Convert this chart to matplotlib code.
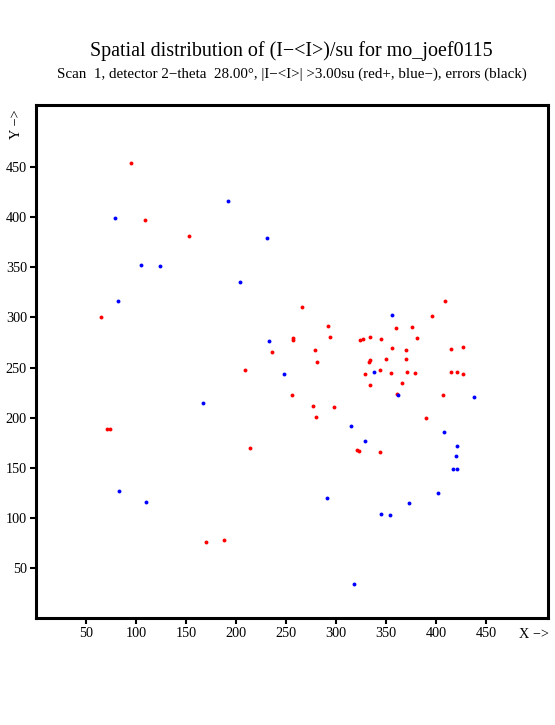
import matplotlib
matplotlib.use("Agg")
import matplotlib.pyplot as plt

plt.rcParams['font.family'] = ['Liberation Serif', 'DejaVu Serif']

red_x = [95, 109, 153, 65, 266, 292, 257, 257, 294, 236, 279, 281, 256, 277, 298, 280,
         214, 321, 323, 344, 324, 327, 334, 345, 334, 333, 329, 334, 350, 344, 355, 356,
         360, 376, 370, 370, 371, 379, 381, 366, 361, 396, 409, 407, 390, 415, 427, 415,
         421, 427, 209, 71, 74, 170, 188]
red_y = [454, 397, 381, 300, 310, 291, 279, 277, 280, 265, 267, 256, 223, 212, 211, 201,
         170, 168, 167, 166, 277, 278, 280, 278, 257, 256, 244, 233, 258, 248, 245, 269,
         289, 290, 267, 258, 246, 245, 279, 235, 224, 301, 316, 223, 200, 268, 270, 246,
         246, 244, 248, 189, 189, 76, 78]

blue_x = [356, 233, 248, 338, 362, 315, 329, 408, 438, 421, 420, 417, 421, 402, 373,
          345, 354, 192, 79, 231, 105, 124, 204, 82, 167, 83, 110, 291, 318]
blue_y = [302, 276, 244, 246, 223, 192, 177, 186, 221, 172, 162, 149, 149, 125, 115,
          104, 103, 416, 399, 379, 352, 351, 335, 316, 215, 127, 116, 120, 34]

x_ticks = [50, 100, 150, 200, 250, 300, 350, 400, 450]
y_ticks = [50, 100, 150, 200, 250, 300, 350, 400, 450]

title = "Spatial distribution of (I\u2212<I>)/su for mo_joef0115"
subtitle = ("Scan  1, detector 2\u2212theta  28.00\u00b0, |I\u2212<I>| >3.00su "
            "(red+, blue\u2212), errors (black)")

fig = plt.figure(figsize=(5.55, 7.25), dpi=100)
ax = fig.add_axes([36/555, 107/725, 512/555, 513/725])

ax.plot(red_x, red_y, linestyle='none', marker='o', ms=2.8, mew=0, color='#ff0000')
ax.plot(blue_x, blue_y, linestyle='none', marker='o', ms=2.8, mew=0, color='#0000ff')

ax.set_xlim(0, 512)
ax.set_ylim(0, 512)
ax.set_xticks(x_ticks)
ax.set_yticks(y_ticks)
ax.tick_params(direction='out', length=4.5, width=1.5, labelsize=10.3, pad=2, color='black')
for s in ax.spines.values():
    s.set_linewidth(2.2)

fig.text(291.5/555, 1 - 51/725, title, ha='center', va='center', fontsize=14.4)
fig.text(292/555, 1 - 74.5/725, subtitle, ha='center', va='center', fontsize=10.8)
fig.text(534/555, 1 - 635/725, "X \u2212>", ha='center', va='center', fontsize=10.3)
fig.text(17/555, 1 - 124/725, "Y \u2212>", ha='center', va='center', fontsize=10.3, rotation=90)

fig.savefig("out.png", dpi=100)
